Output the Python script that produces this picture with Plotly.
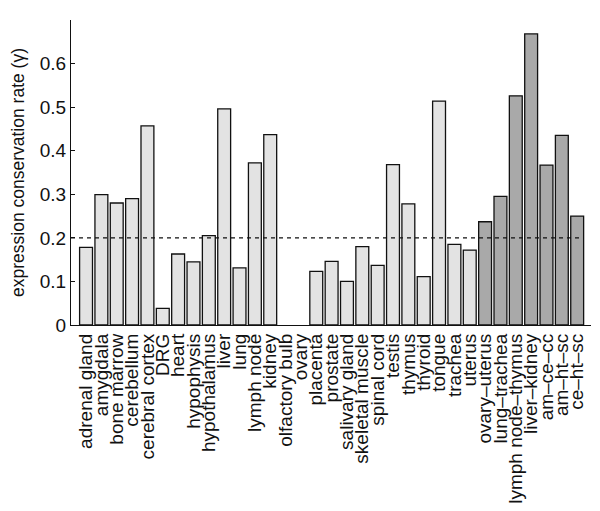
import plotly.graph_objects as go

categories = ["adrenal gland", "amygdala", "bone marrow", "cerebellum", "cerebral cortex",
              "DRG", "heart", "hypophysis", "hypothalamus", "liver", "lung", "lymph node",
              "kidney", "olfactory bulb", "ovary", "placenta", "prostate", "salivary gland",
              "skeletal muscle", "spinal cord", "testis", "thymus", "thyroid", "tongue",
              "trachea", "uterus",
              "ovary\u2013uterus", "lung\u2013trachea", "lymph node\u2013thymus",
              "liver\u2013kidney", "am\u2013ce\u2013cc", "am\u2013ht\u2013sc", "ce\u2013ht\u2013sc"]
values = [0.178, 0.299, 0.280, 0.290, 0.457, 0.038, 0.163, 0.145, 0.205, 0.496, 0.131,
          0.372, 0.437, 0.0, 0.0, 0.123, 0.146, 0.100, 0.180, 0.137, 0.368, 0.278, 0.111,
          0.514, 0.185, 0.172,
          0.237, 0.295, 0.526, 0.668, 0.367, 0.435, 0.250]
is_combined = [False] * 26 + [True] * 7
threshold = 0.2
y_ticks = [0, 0.1, 0.2, 0.3, 0.4, 0.5, 0.6]
y_tick_labels = ["0", "0.1", "0.2", "0.3", "0.4", "0.5", "0.6"]

colors = ["#a9a9a9" if c else "#e3e3e3" for c in is_combined]
x_idx = list(range(len(categories)))
shown = [v if v > 0 else None for v in values]

fig = go.Figure()
fig.add_trace(go.Bar(
    x=x_idx, y=shown, width=0.84,
    marker=dict(color=colors, line=dict(color="#111111", width=1.3)),
    hoverinfo="skip",
))
fig.add_trace(go.Scatter(
    x=[-0.98, len(categories) - 1 + 0.42], y=[threshold, threshold],
    mode="lines", line=dict(color="#111111", width=1.1, dash="4px,4px"),
    hoverinfo="skip",
))

# the page body has an 8px default margin, so the margins compensate for it
fig.update_layout(
    width=600, height=511,
    margin=dict(l=63, r=17, t=12, b=194),
    paper_bgcolor="white", plot_bgcolor="white",
    showlegend=False,
    font=dict(family="Liberation Sans, Arial, sans-serif", color="#111111", size=16),
    bargap=0.16,
)
fig.update_xaxes(
    range=[-0.98, 32.9],
    tickmode="array", tickvals=x_idx, ticktext=categories,
    tickangle=-90, tickfont=dict(size=19),
    showline=True, linecolor="#111111", linewidth=1.3,
    showgrid=False, zeroline=False, ticks="", automargin=False,
)
fig.update_yaxes(
    range=[0, 0.70],
    tickmode="array", tickvals=y_ticks, ticktext=y_tick_labels,
    tickfont=dict(size=19),
    ticks="inside", ticklen=4, tickcolor="#111111",
    showline=True, linecolor="#111111", linewidth=1.3,
    showgrid=False, zeroline=False, automargin=False,
    title=dict(text="expression conservation rate (\u03b3)", font=dict(size=17.5), standoff=15),
)
fig.write_html("out.html")
